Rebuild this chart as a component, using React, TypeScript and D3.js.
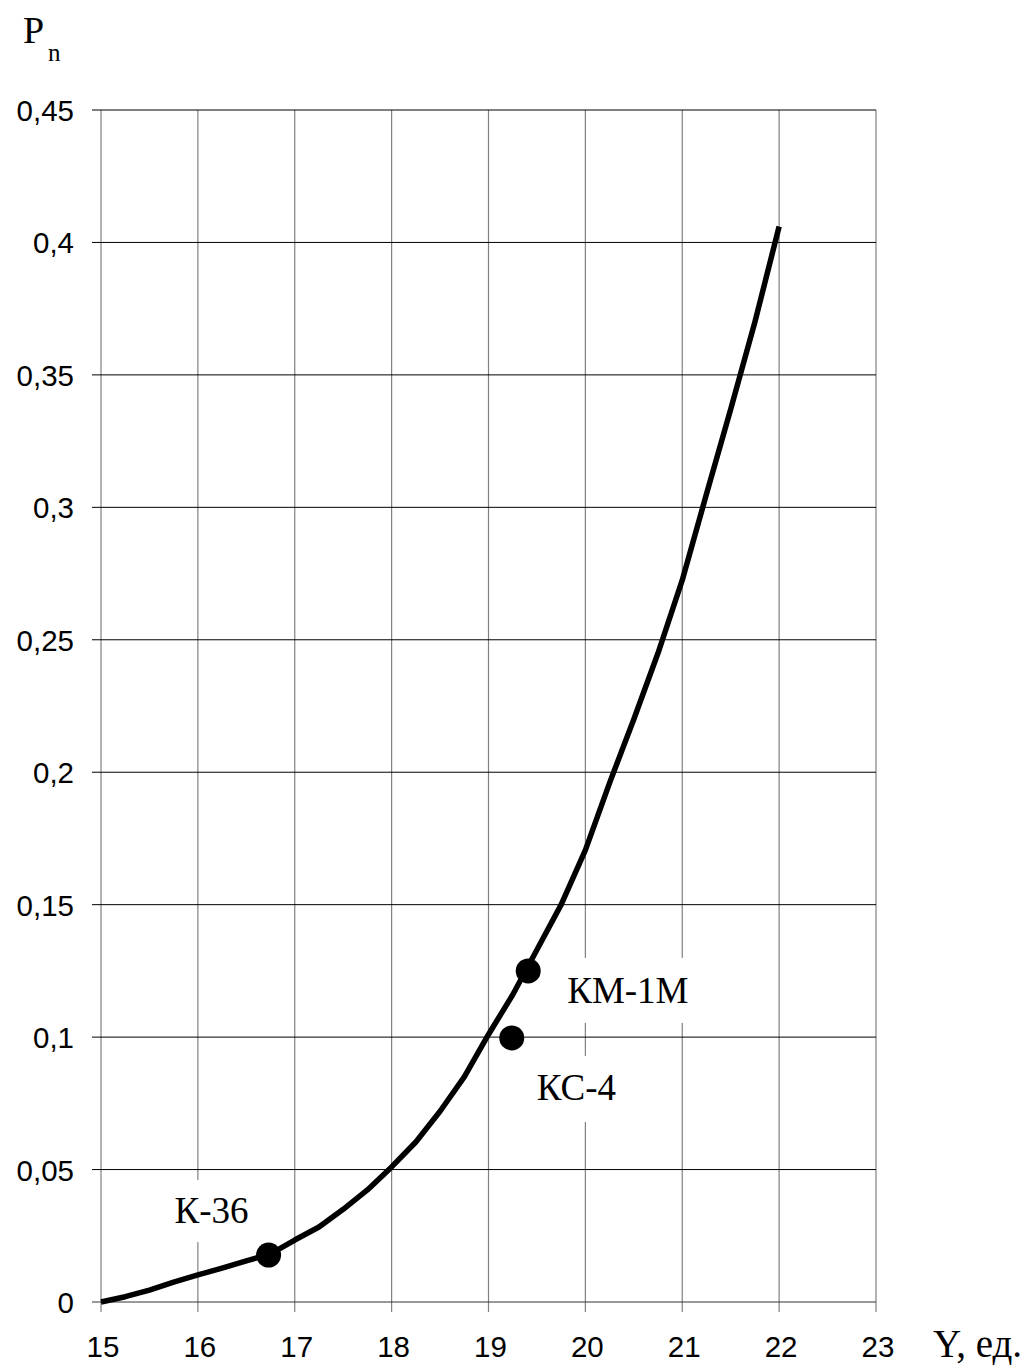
import React from "react";
import * as d3 from "d3";

const curveX = [15, 15.25, 15.5, 15.75, 16, 16.25, 16.5, 16.75, 17, 17.25, 17.5, 17.75, 18, 18.25, 18.5, 18.75, 19, 19.25, 19.5, 19.75, 20, 20.25, 20.5, 20.75, 21, 21.25, 21.5, 21.75, 22];
const curveY = [0, 0.002, 0.0045, 0.0075, 0.0102, 0.0128, 0.0155, 0.0182, 0.0234, 0.0283, 0.035, 0.0423, 0.051, 0.0604, 0.072, 0.085, 0.101, 0.116, 0.133, 0.15, 0.1706, 0.196, 0.22, 0.245, 0.2725, 0.305, 0.337, 0.37, 0.406];

const pointNames = ["К-36", "КМ-1М", "КС-4"];
const pointX = [16.73, 19.41, 19.24];
const pointY = [0.0177, 0.125, 0.0997];

const xTicks = [15, 16, 17, 18, 19, 20, 21, 22, 23];
const yTicks = [0, 0.05, 0.1, 0.15, 0.2, 0.25, 0.3, 0.35, 0.4, 0.45];
const yTickLabels = ["0", "0,05", "0,1", "0,15", "0,2", "0,25", "0,3", "0,35", "0,4", "0,45"];

export default function App() {
  const W = 1029, H = 1367;
  const x = d3.scaleLinear().domain([15, 23]).range([101, 876]);
  const y = d3.scaleLinear().domain([0, 0.45]).range([1302, 110]);
  const line = d3.line<number>().x((d, i) => x(curveX[i])).y((d) => y(d));

  const labels = [
    { tx: -94, ty: -32, bx: -104, by: -75, bw: 95, bh: 62 },
    { tx: 39, ty: 32, bx: 26, by: -13, bw: 148, bh: 65 },
    { tx: 25, ty: 62, bx: 12, by: 18, bw: 102, bh: 66 },
  ];

  const sans = "Liberation Sans, Arial, sans-serif";
  const serif = "Liberation Serif, Times New Roman, serif";

  return (
    <svg width={W} height={H} style={{ position: "absolute", left: 0, top: 0, background: "#fff" }}>
      <rect x={0} y={0} width={W} height={H} fill="#fff" />
      {xTicks.map((t) => (
        <line key={"v" + t} x1={x(t)} x2={x(t)} y1={y(0.45)} y2={y(0) + 10} stroke="#808080" strokeWidth={1.2} />
      ))}
      {yTicks.map((t) => (
        <line key={"h" + t} x1={x(15) - 9} x2={x(23)} y1={y(t)} y2={y(t)} stroke={t === 0 ? "#333" : "#000"} strokeWidth={1} />
      ))}
      {pointNames.map((n, i) => (
        <rect key={"b" + n} x={x(pointX[i]) + labels[i].bx} y={y(pointY[i]) + labels[i].by} width={labels[i].bw} height={labels[i].bh} fill="#fff" />
      ))}
      {yTicks.map((t, i) => (
        <text key={"yl" + t} x={74} y={y(t) + 11} textAnchor="end" fontFamily={sans} fontSize={29.5} fill="#000">
          {yTickLabels[i]}
        </text>
      ))}
      {xTicks.map((t) => (
        <text key={"xl" + t} x={x(t) + 2} y={1357} textAnchor="middle" fontFamily={sans} fontSize={29.5} fill="#000">
          {t}
        </text>
      ))}
      <text x={23} y={43} fontFamily={serif} fontSize={38} fill="#000">P</text>
      <text x={48} y={61} fontFamily={serif} fontSize={25} fill="#000">n</text>
      <text x={933} y={1357} fontFamily={serif} fontSize={39} fill="#000">Y, ед.</text>
      <path d={line(curveY) || ""} fill="none" stroke="#000" strokeWidth={5.5} strokeLinejoin="round" />
      {pointNames.map((n, i) => (
        <circle key={"c" + n} cx={x(pointX[i])} cy={y(pointY[i])} r={12.5} fill="#000" />
      ))}
      {pointNames.map((n, i) => (
        <text key={"t" + n} x={x(pointX[i]) + labels[i].tx} y={y(pointY[i]) + labels[i].ty} fontFamily={serif} fontSize={37} fill="#000">
          {n}
        </text>
      ))}
    </svg>
  );
}
